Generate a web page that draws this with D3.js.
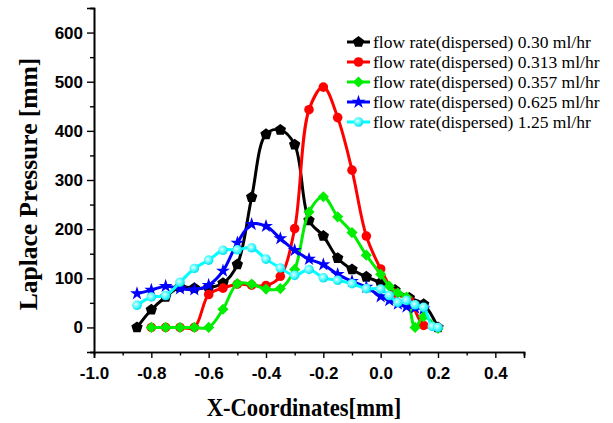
<!DOCTYPE html>
<html>
<head>
<meta charset="utf-8">
<script src="https://cdn.jsdelivr.net/npm/d3@7"></script>
<style>
  body { margin: 0; background: #fff; }
  svg { display: block; }
</style>
</head>
<body>
<div id="chart"></div>
<script>
// values
const blackX = [-0.85, -0.80, -0.75, -0.70, -0.65, -0.60, -0.55, -0.50, -0.45, -0.40, -0.35, -0.30, -0.25, -0.20, -0.15, -0.10, -0.05, 0.00, 0.05, 0.10, 0.15, 0.20];
const blackY = [0, 36, 62, 82, 80, 81, 90, 128, 265, 393, 402, 372, 218, 186, 141, 118, 103, 91, 76, 60, 47, 0];

const redX = [-0.80, -0.75, -0.70, -0.65, -0.60, -0.55, -0.50, -0.45, -0.40, -0.35, -0.30, -0.25, -0.20, -0.15, -0.10, -0.05, 0.00, 0.05, 0.10, 0.15, 0.20];
const redY = [0, 0, 0, 0, 67, 80, 88, 86, 85, 104, 201, 443, 489, 427, 320, 186, 119, 70, 55, 4, 0];

const greenX = [-0.80, -0.75, -0.70, -0.65, -0.60, -0.55, -0.50, -0.45, -0.40, -0.35, -0.30, -0.25, -0.20, -0.15, -0.10, -0.05, 0.00, 0.03, 0.06, 0.09, 0.12, 0.15, 0.20];
const greenY = [0, 0, 0, 0, 0, 37, 89, 88, 78, 79, 118, 235, 266, 225, 193, 147, 108, 84, 70, 62, 0, 22, -2];

const blueX = [-0.85, -0.80, -0.75, -0.70, -0.65, -0.60, -0.55, -0.50, -0.45, -0.40, -0.35, -0.30, -0.25, -0.20, -0.15, -0.10, -0.05, 0.00, 0.03, 0.06, 0.09, 0.12, 0.15];
const blueY = [69, 76, 84, 79, 77, 86, 115, 172, 210, 206, 181, 157, 139, 128, 108, 94, 82, 63, 55, 48, 42, 40, 38];

const cyanX = [-0.85, -0.80, -0.75, -0.70, -0.65, -0.60, -0.55, -0.50, -0.45, -0.40, -0.35, -0.30, -0.25, -0.20, -0.15, -0.10, -0.05, 0.00, 0.03, 0.06, 0.09, 0.12, 0.15, 0.18, 0.20];
const cyanY = [45, 62, 65, 92, 120, 137, 157, 158, 162, 139, 121, 106, 118, 101, 96, 89, 79, 78, 65, 51, 55, 46, 41, 2, 0];

const seriesNames = [
  "flow rate(dispersed) 0.30 ml/hr",
  "flow rate(dispersed) 0.313 ml/hr",
  "flow rate(dispersed) 0.357 ml/hr",
  "flow rate(dispersed) 0.625 ml/hr",
  "flow rate(dispersed) 1.25 ml/hr"
];

const xTicks = [-1.0, -0.8, -0.6, -0.4, -0.2, 0.0, 0.2, 0.4];
const xTickLabels = ["-1.0", "-0.8", "-0.6", "-0.4", "-0.2", "0.0", "0.2", "0.4"];
const xMinor = [-0.9, -0.7, -0.5, -0.3, -0.1, 0.1, 0.3, 0.5];
const yTicks = [0, 100, 200, 300, 400, 500, 600];
const yTickLabels = ["0", "100", "200", "300", "400", "500", "600"];
const yMinor = [-50, 50, 150, 250, 350, 450, 550, 650];

const width = 613, height = 423;
const margin = {top: 8, right: 89, bottom: 71, left: 94};

const series = [
  {x: blackX, y: blackY, color: "#000000", shape: "pentagon"},
  {x: redX, y: redY, color: "#ff0000", shape: "circle"},
  {x: greenX, y: greenY, color: "#00ee00", shape: "diamond"},
  {x: blueX, y: blueY, color: "#0000ff", shape: "star"},
  {x: cyanX, y: cyanY, color: "#00ffff", shape: "sphere"}
];

const xScale = d3.scaleLinear()
  .domain([-1.0, 0.5])
  .range([margin.left, width - margin.right]);

const yScale = d3.scaleLinear()
  .domain([-50, 650])
  .range([height - margin.bottom, margin.top]);

const svg = d3.select("#chart")
  .append("svg")
  .attr("width", width)
  .attr("height", height);

const defs = svg.append("defs");
const grad = defs.append("radialGradient")
  .attr("id", "sphere")
  .attr("cx", "40%").attr("cy", "40%").attr("r", "60%");
grad.append("stop").attr("offset", "0%").attr("stop-color", "#e8ffff");
grad.append("stop").attr("offset", "45%").attr("stop-color", "#66ffff");
grad.append("stop").attr("offset", "100%").attr("stop-color", "#00e0f0");

// pentagon marker, house-like like Origin's
const pentagon = {
  draw(ctx, size) {
    const r = Math.sqrt(size / 2.38);
    for (let i = 0; i < 5; i++) {
      const a = -Math.PI / 2 + i * 2 * Math.PI / 5;
      const px = r * Math.cos(a), py = r * Math.sin(a);
      if (i === 0) ctx.moveTo(px, py); else ctx.lineTo(px, py);
    }
    ctx.closePath();
  }
};

function marker(g, shape, color, cx, cy) {
  if (shape === "circle") {
    g.append("circle").attr("cx", cx).attr("cy", cy).attr("r", 4.8).attr("fill", color);
  } else if (shape === "sphere") {
    g.append("circle").attr("cx", cx).attr("cy", cy).attr("r", 4.8)
      .attr("fill", "url(#sphere)");
  } else if (shape === "diamond") {
    g.append("path").attr("d", d3.symbol(d3.symbolSquare, 62)())
      .attr("transform", `translate(${cx},${cy}) rotate(45)`)
      .attr("fill", color);
  } else if (shape === "star") {
    g.append("path").attr("d", d3.symbol(d3.symbolStar, 60)())
      .attr("transform", `translate(${cx},${cy})`)
      .attr("fill", color);
  } else {
    g.append("path").attr("d", d3.symbol(pentagon, 85)())
      .attr("transform", `translate(${cx},${cy})`)
      .attr("fill", color);
  }
}

const line = d3.line()
  .x(d => xScale(d[0]))
  .y(d => yScale(d[1]))
  .curve(d3.curveCatmullRom.alpha(0.5));

series.forEach(s => {
  const pts = s.x.map((v, i) => [v, s.y[i]]);
  const g = svg.append("g");
  g.append("path")
    .attr("d", line(pts))
    .attr("fill", "none")
    .attr("stroke", s.color)
    .attr("stroke-width", 3);
  pts.forEach(p => marker(g, s.shape, s.color, xScale(p[0]), yScale(p[1])));
});

// axes
const tickFont = "'Liberation Sans', Arial, sans-serif";

const xAxis = d3.axisBottom(xScale)
  .tickValues(xTicks)
  .tickFormat((d, i) => xTickLabels[i])
  .tickSize(6)
  .tickPadding(9);
const xMinorAxis = d3.axisBottom(xScale)
  .tickValues(xMinor)
  .tickFormat("")
  .tickSize(3.5);

const yAxis = d3.axisLeft(yScale)
  .tickValues(yTicks)
  .tickFormat((d, i) => yTickLabels[i])
  .tickSize(7)
  .tickPadding(4);
const yMinorAxis = d3.axisLeft(yScale)
  .tickValues(yMinor)
  .tickFormat("")
  .tickSize(4);

function styleAxis(g) {
  g.select(".domain").attr("stroke-width", 1.6).attr("stroke", "#000");
  g.selectAll(".tick line").attr("stroke-width", 1.4).attr("stroke", "#000");
  g.selectAll("text")
    .attr("font-family", tickFont)
    .attr("font-weight", "bold")
    .attr("font-size", 17)
    .attr("fill", "#000");
}

svg.append("g")
  .attr("transform", "translate(" + [0, height - margin.bottom] + ")")
  .call(xMinorAxis).call(styleAxis);
svg.append("g")
  .attr("transform", "translate(" + [0, height - margin.bottom] + ")")
  .call(xAxis).call(styleAxis);
svg.append("g")
  .attr("transform", "translate(" + [margin.left, 0] + ")")
  .call(yMinorAxis).call(styleAxis);
svg.append("g")
  .attr("transform", "translate(" + [margin.left, 0] + ")")
  .call(yAxis).call(styleAxis);

// axis titles
const titleFont = "'Liberation Serif', 'Times New Roman', serif";
svg.append("text")
  .attr("transform", "translate(304,416) scale(0.87,1)")
  .attr("text-anchor", "middle")
  .attr("font-family", titleFont)
  .attr("font-weight", "bold")
  .attr("font-size", 26)
  .text("X-Coordinates[mm]");

svg.append("text")
  .attr("transform", "translate(37,184) rotate(-90)")
  .attr("text-anchor", "middle")
  .attr("font-family", titleFont)
  .attr("font-weight", "bold")
  .attr("font-size", 25.5)
  .text("Laplace Pressure [mm]");

// legend
const legend = svg.append("g");
series.forEach((s, i) => {
  const ly = 42 + i * 20;
  legend.append("line")
    .attr("x1", 347).attr("x2", 370)
    .attr("y1", ly).attr("y2", ly)
    .attr("stroke", s.color)
    .attr("stroke-width", 3);
  marker(legend, s.shape, s.color, 358.5, ly);
  legend.append("text")
    .attr("x", 373)
    .attr("y", ly)
    .attr("dy", "0.33em")
    .attr("font-family", titleFont)
    .attr("font-size", 17.5)
    .text(seriesNames[i]);
});
</script>
</body>
</html>
